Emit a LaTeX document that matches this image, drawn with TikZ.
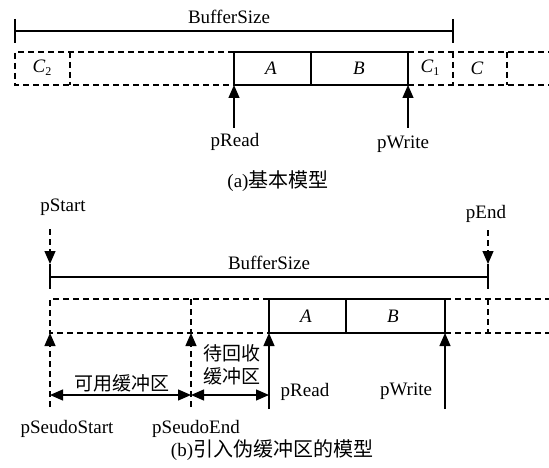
\documentclass[tikz,border=0pt]{standalone}
\usepackage{fontspec}
\setmainfont{Liberation Serif}
\newfontfamily\cjk{Noto Sans CJK SC}
\usetikzlibrary{arrows.meta}
\begin{document}
\begin{tikzpicture}[x=1pt,y=-1pt,
  line width=1.2pt,
  lbl/.style={inner sep=0pt,font=\fontsize{19}{22}\selectfont},
  captext/.style={inner sep=0pt,font=\fontsize{19}{22}\selectfont},
  zh/.style={inner sep=0pt,font=\fontsize{19}{23}\selectfont\cjk},
  dsh/.style={dash pattern=on 6pt off 4pt},
  tip/.style={-{Triangle[length=13pt,width=11pt]}},
  dtip/.style={{Triangle[length=13pt,width=11pt]}-{Triangle[length=13pt,width=11pt]}}]
\useasboundingbox (0,0) rectangle (549,468);

% ---------------- (a) basic model ----------------
\node[lbl] (bsA) at (229,17) {BufferSize};
\coordinate (aL) at (15,31);
\coordinate (aR) at (453,31);
\draw (aL) -- (aR);
\draw (15,19) -- (15,43);
\draw (453,19) -- (453,43);

% solid buffer blocks
\coordinate (rdA) at (234,85);
\coordinate (wrA) at (408,85);
\draw (234,52) rectangle (311,85);
\draw (311,52) rectangle (408,85);
% dashed free space
\draw[dsh] (234,52) -- (15,52) -- (15,85) -- (234,85);
\draw[dsh] (70,52) -- (70,85);
\draw[dsh] (408,52) -- (549,52);
\draw[dsh] (408,85) -- (549,85);
\draw[dsh] (453,52) -- (453,85);
\draw[dsh] (507,52) -- (507,85);

\node[lbl] (c2) at (42,68) {\textit{C}\raisebox{-0.35ex}{\fontsize{12}{12}\selectfont 2}};
\node[lbl] (blkA) at (271,68) {\textit{A}};
\node[lbl] (blkB) at (359,68) {\textit{B}};
\node[lbl] (c1) at (430,68) {\textit{C}\raisebox{-0.35ex}{\fontsize{12}{12}\selectfont 1}};
\node[lbl] (cc) at (477,68) {\textit{C}};

\coordinate (rdAb) at (234,128);
\coordinate (wrAb) at (408,128);
\draw[tip] (rdAb) -- (rdA);
\draw[tip] (wrAb) -- (wrA);
\node[lbl] (prA) at (235,142) {pRead};
\node[lbl] (pwA) at (403,144) {pWrite};

\node[captext] (capA) at (278,181) {(a){\cjk\fontsize{20}{24}\selectfont 基本模型}};

% ---------------- (b) model with pseudo buffer ----------------
\node[lbl] (pst) at (63,207) {pStart};
\node[lbl] (pen) at (486,214) {pEnd};
\coordinate (pstT) at (50,229);
\coordinate (pstB) at (50,264);
\coordinate (penT) at (488,230);
\coordinate (penB) at (488,264);
\draw[dsh,tip] (pstT) -- (pstB);
\draw[dsh,tip] (penT) -- (penB);

\node[lbl] (bsB) at (269,263) {BufferSize};
\coordinate (bL) at (50,277);
\coordinate (bR) at (488,277);
\draw (bL) -- (bR);
\draw (50,264) -- (50,289);
\draw (488,264) -- (488,289);

% solid buffer blocks
\draw (269,299) rectangle (346,333);
\draw (346,299) rectangle (445,333);
% dashed regions
\draw[dsh] (269,299) -- (50,299) -- (50,333) -- (269,333);
\draw[dsh] (191,299) -- (191,333);
\draw[dsh] (445,299) -- (549,299);
\draw[dsh] (445,333) -- (549,333);
\draw[dsh] (488,299) -- (488,333);

\node[lbl] (blkA2) at (306,316) {\textit{A}};
\node[lbl] (blkB2) at (393,316) {\textit{B}};

% pointers
\coordinate (psS) at (50,333);
\coordinate (psE) at (191,333);
\coordinate (prB) at (269,333);
\coordinate (pwB) at (445,333);
\coordinate (psSb) at (50,407);
\coordinate (psEb) at (191,407);
\coordinate (prBb) at (269,409);
\coordinate (pwBb) at (445,409);
\draw[dsh,tip] (psSb) -- (psS);
\draw[dsh,tip] (psEb) -- (psE);
\draw[tip] (prBb) -- (prB);
\draw[tip] (pwBb) -- (pwB);

% region extents
\coordinate (d1) at (50,395);
\coordinate (d2) at (191,395);
\coordinate (d3) at (269,395);
\draw[dtip] (d1) -- (d2);
\draw[dtip] (d2) -- (d3);
\node[zh] (avail) at (122,383) {可用缓冲区};
\node[zh,align=center] (recl) at (232,365) {待回收\\缓冲区};

\node[lbl] (prL) at (305,392) {pRead};
\node[lbl] (pwL) at (406,391) {pWrite};
\node[lbl] (pssL) at (67,429) {pSeudoStart};
\node[lbl] (pseL) at (196,429) {pSeudoEnd};

\node[captext] (capB) at (272,450) {(b){\cjk\fontsize{20}{24}\selectfont 引入伪缓冲区的模型}};
\end{tikzpicture}
\end{document}
